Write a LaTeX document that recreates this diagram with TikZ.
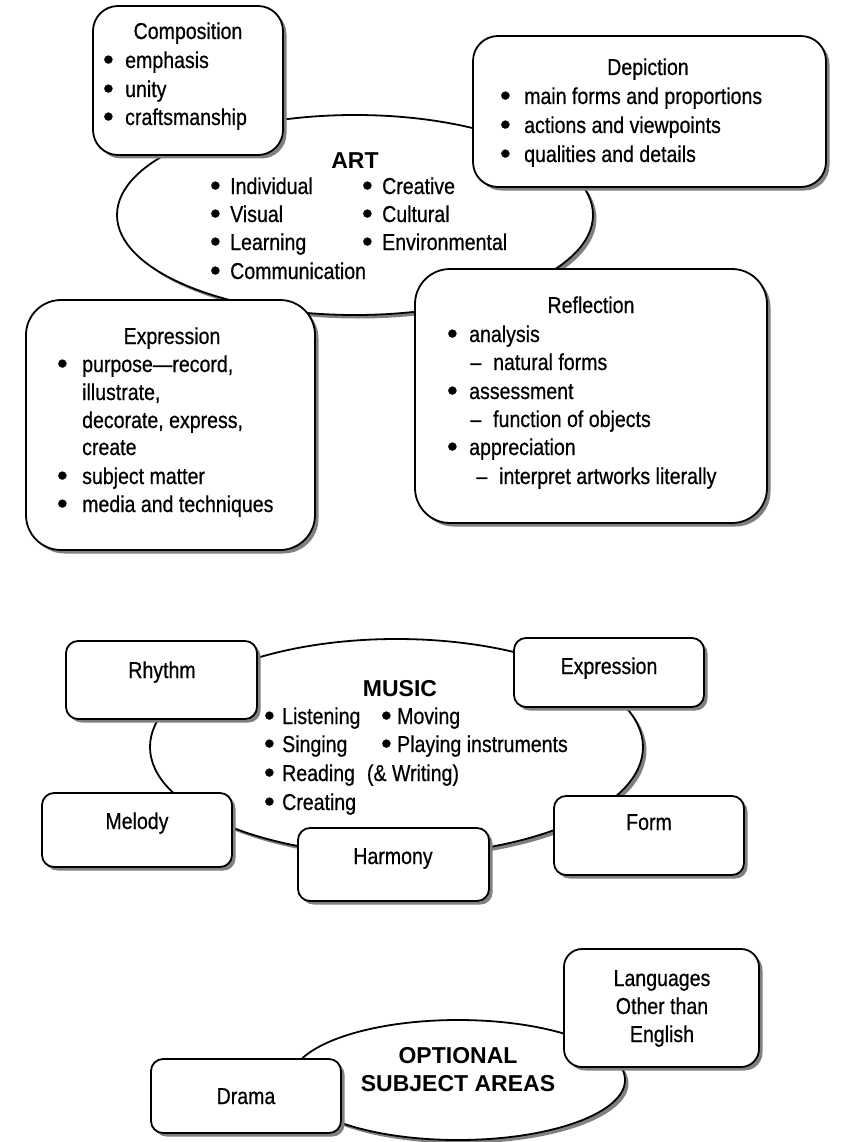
\documentclass[tikz,border=0pt]{standalone}
\usepackage{fontspec}
\setmainfont{Liberation Sans}[FakeStretch=0.85,FakeBold=0.6]
\newfontfamily\widefont{Liberation Sans}
\usetikzlibrary{shapes.geometric,shadows}
\definecolor{shadowgray}{RGB}{128,128,128}
\newcommand\nt{\fontsize{23}{28}\selectfont}
\newcommand\tft{\widefont\bfseries\fontsize{23}{28}\selectfont}
\newcommand\bu{\raisebox{-1.5pt}{\scalebox{1.55}[1.3]{•}}}
\newcommand\bul[1]{\llap{\bu\hspace{#1pt}}}
\newcommand\dsh[1]{\llap{–\hspace{#1pt}}}
\tikzset{
 dshadow/.style={drop shadow={shadow xshift=3.5pt,shadow yshift=-3.5pt,fill=shadowgray,opacity=1}},
 box/.style={draw, line width=1.8pt, fill=white, inner sep=0pt, dshadow},
 oval/.style={ellipse, draw, line width=1.8pt, fill=white, inner sep=0pt, dshadow},
 txt/.style={font=\nt, inner sep=0pt, anchor=base west},
 ttl/.style={font=\nt, inner sep=0pt, anchor=base},
 hdtext/.style={font=\tft, inner sep=0pt, anchor=base},
}
\begin{document}
\begin{tikzpicture}[x=1pt,y=-1pt]
\fill[white] (0,0) rectangle (840,1142);
\useasboundingbox (0,0) rectangle (840,1142);
% ---------------- ART ----------------
\node[oval, minimum width=476, minimum height=200] (art) at (355,215) {};
\node[box, rounded corners=25pt, minimum width=190, minimum height=149] (comp) at (188,80.5) {};
\node[box, rounded corners=25pt, minimum width=353, minimum height=151] (depi) at (649.5,111.5) {};
\node[box, rounded corners=35pt, minimum width=289, minimum height=250] (expr) at (170.5,425) {};
\node[box, rounded corners=35pt, minimum width=352, minimum height=254] (refl) at (591,396) {};
% ART text
\node[hdtext] (artT) at (355,169) {ART};
\node[txt] (a1) at (230,194) {\bul{9.5}Individual};
\node[txt] (a2) at (230,222) {\bul{9.5}Visual};
\node[txt] (a3) at (230,250) {\bul{9.5}Learning};
\node[txt] (a4) at (230,279) {\bul{9.5}Communication};
\node[txt] (a5) at (382,194) {\bul{9.5}Creative};
\node[txt] (a6) at (382,222) {\bul{9.5}Cultural};
\node[txt] (a7) at (382,250) {\bul{9.5}Environmental};
% Composition
\node[ttl] (compT) at (188,39) {Composition};
\node[txt] (c1) at (125,68) {\bul{11.5}emphasis};
\node[txt] (c2) at (125,97) {\bul{11.5}unity};
\node[txt] (c3) at (125,125) {\bul{11.5}craftsmanship};
% Depiction
\node[ttl] (depiT) at (648,75) {Depiction};
\node[txt] (d1) at (524,104) {\bul{13.5}main forms and proportions};
\node[txt] (d2) at (524,133) {\bul{13.5}actions and viewpoints};
\node[txt] (d3) at (524,162) {\bul{13.5}qualities and details};
% Expression
\node[ttl] (exprT) at (172,344) {Expression};
\node[txt] (e1) at (82,372) {\bul{14.5}purpose—record,};
\node[txt] (e2) at (82,400) {illustrate,};
\node[txt] (e3) at (82,428) {decorate, express,};
\node[txt] (e4) at (82,455) {create};
\node[txt] (e5) at (82,484) {\bul{14.5}subject matter};
\node[txt] (e6) at (82,512) {\bul{14.5}media and techniques};
% Reflection
\node[ttl] (reflT) at (591,313) {Reflection};
\node[txt] (r1) at (469,342) {\bul{11.5}analysis};
\node[txt] (r2) at (493,370) {\dsh{12}natural forms};
\node[txt] (r3) at (469,399) {\bul{11.5}assessment};
\node[txt] (r4) at (493,427) {\dsh{12}function of objects};
\node[txt] (r5) at (469,455) {\bul{11.5}appreciation};
\node[txt] (r6) at (499,484) {\dsh{12}interpret artworks literally};
% ---------------- MUSIC ----------------
\node[oval, minimum width=493, minimum height=216] (music) at (396.5,747) {};
\node[box, rounded corners=12pt, minimum width=191, minimum height=78] (rhy) at (161.5,680) {};
\node[box, rounded corners=12pt, minimum width=190, minimum height=74] (mel) at (137,830) {};
\node[box, rounded corners=12pt, minimum width=191, minimum height=73] (har) at (393.5,864.5) {};
\node[box, rounded corners=12pt, minimum width=190, minimum height=69] (mexp) at (609,672.5) {};
\node[box, rounded corners=12pt, minimum width=190, minimum height=79] (form) at (649,835.5) {};
\node[hdtext] (musicT) at (400,696) {MUSIC};
\node[txt] (m1) at (282,724) {\bul{7.5}Listening};
\node[txt] (m2) at (282,752) {\bul{7.5}Singing};
\node[txt] (m3) at (282,781) {\bul{7.5}Reading\hspace{12pt}(\& Writing)};
\node[txt] (m4) at (282,810) {\bul{7.5}Creating};
\node[txt] (m5) at (397,724) {\bul{5.5}Moving};
\node[txt] (m6) at (397,752) {\bul{5.5}Playing instruments};
\node[ttl] (rhyT) at (162,678) {Rhythm};
\node[ttl] (melT) at (137,829) {Melody};
\node[ttl] (harT) at (393,864) {Harmony};
\node[ttl] (mexpT) at (609,674) {Expression};
\node[ttl] (formT) at (649,830) {Form};
% ---------------- OPTIONAL ----------------
\node[oval, minimum width=334, minimum height=120] (opt) at (458,1080) {};
\node[box, rounded corners=12pt, minimum width=190, minimum height=74] (dra) at (246,1096) {};
\node[box, rounded corners=18pt, minimum width=195, minimum height=118] (lang) at (661.5,1008) {};
\node[hdtext] (opt1) at (458,1063) {OPTIONAL};
\node[hdtext] (opt2) at (458,1091) {SUBJECT AREAS};
\node[ttl] (draT) at (246,1104) {Drama};
\node[ttl] (l1) at (662,986) {Languages};
\node[ttl] (l2) at (662,1014) {Other than};
\node[ttl] (l3) at (662,1042) {English};
\end{tikzpicture}
\end{document}
